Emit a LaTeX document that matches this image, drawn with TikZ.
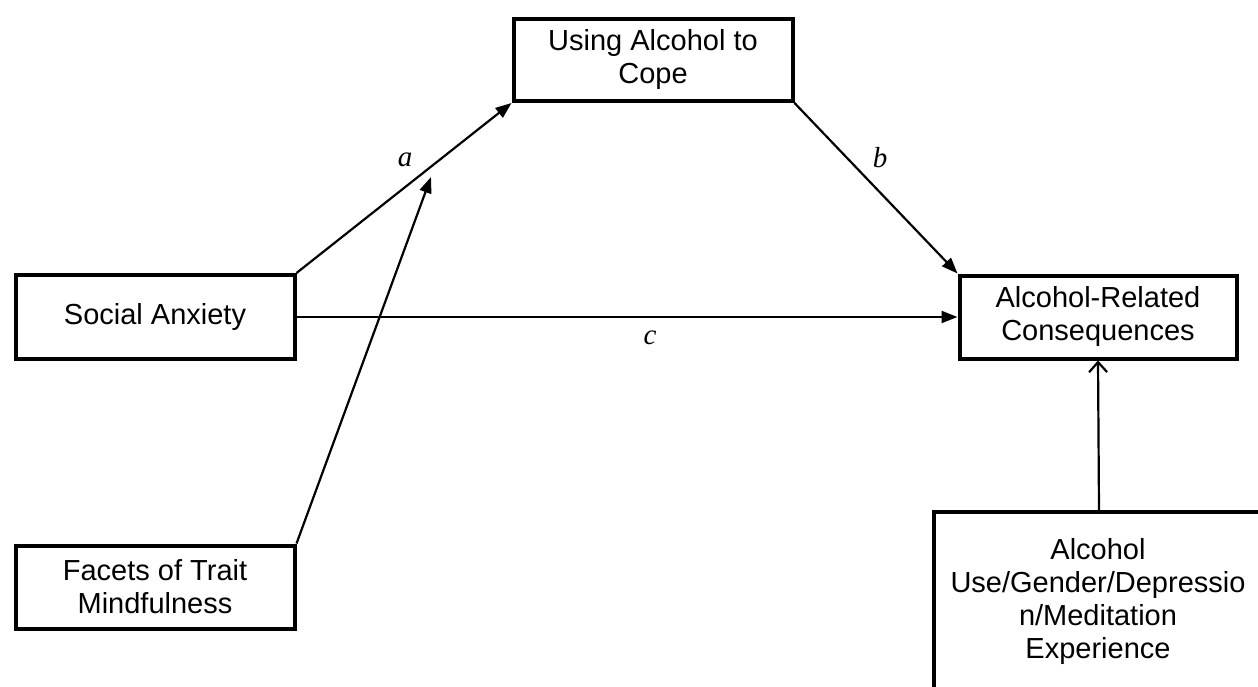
\documentclass[tikz,border=0pt]{standalone}
\usepackage{fontspec}
\setmainfont{Liberation Sans}
\newfontfamily\labfont{Liberation Serif}
\usetikzlibrary{arrows.meta}
\tikzset{
  box/.style={draw, line width=4pt, align=center, inner sep=0pt, font=\fontsize{29}{33}\selectfont},
  conn/.style={line width=2.2pt, -{Triangle[length=16pt,width=12pt]}},
  openconn/.style={line width=2.2pt, -{Straight Barb[length=10pt,width=18pt,line width=2.2pt]}},
  lab/.style={font=\labfont\itshape\fontsize{29}{33}\selectfont, inner sep=0pt},
  txt/.style={align=center, inner sep=0pt, font=\fontsize{29}{33}\selectfont}
}
\begin{document}
\begin{tikzpicture}[x=1pt,y=-1pt]
\useasboundingbox (0,0) rectangle (1258,687);
\clip (0,0) rectangle (1258,687);
\node[box, minimum width=279pt, minimum height=82pt] (uac) at (653,60) {Using Alcohol to\\Cope};
\node[box, minimum width=279pt, minimum height=84pt] (sa) at (155,317) {Social Anxiety};
\node[box, minimum width=277pt, minimum height=83pt] (arc) at (1098,317) {Alcohol-Related\\Consequences};
\node[box, minimum width=279pt, minimum height=83pt] (ftm) at (155,587) {Facets of Trait\\Mindfulness};
\node[draw, line width=4pt, minimum width=330pt, minimum height=190pt, inner sep=0pt] (ctrl) at (1099,607) {};
\node[txt] (ctrltxt) at (1098,601) {Alcohol\\Use/Gender/Depressio\\n/Meditation\\Experience};
\coordinate (mod) at (431,177);
\draw[conn] (sa.north east) -- (uac.south west);
\draw[conn] (ftm.north east) -- (mod);
\draw[conn] (uac.south east) -- (arc.north west);
\draw[conn] (sa.east) -- (arc.west);
\draw[openconn] (ctrl.north) -- (arc.south);
\node[lab] (la) at (405,160) {a};
\node[lab] (lb) at (880,158) {b};
\node[lab] (lc) at (650,338) {c};
\end{tikzpicture}
\end{document}
